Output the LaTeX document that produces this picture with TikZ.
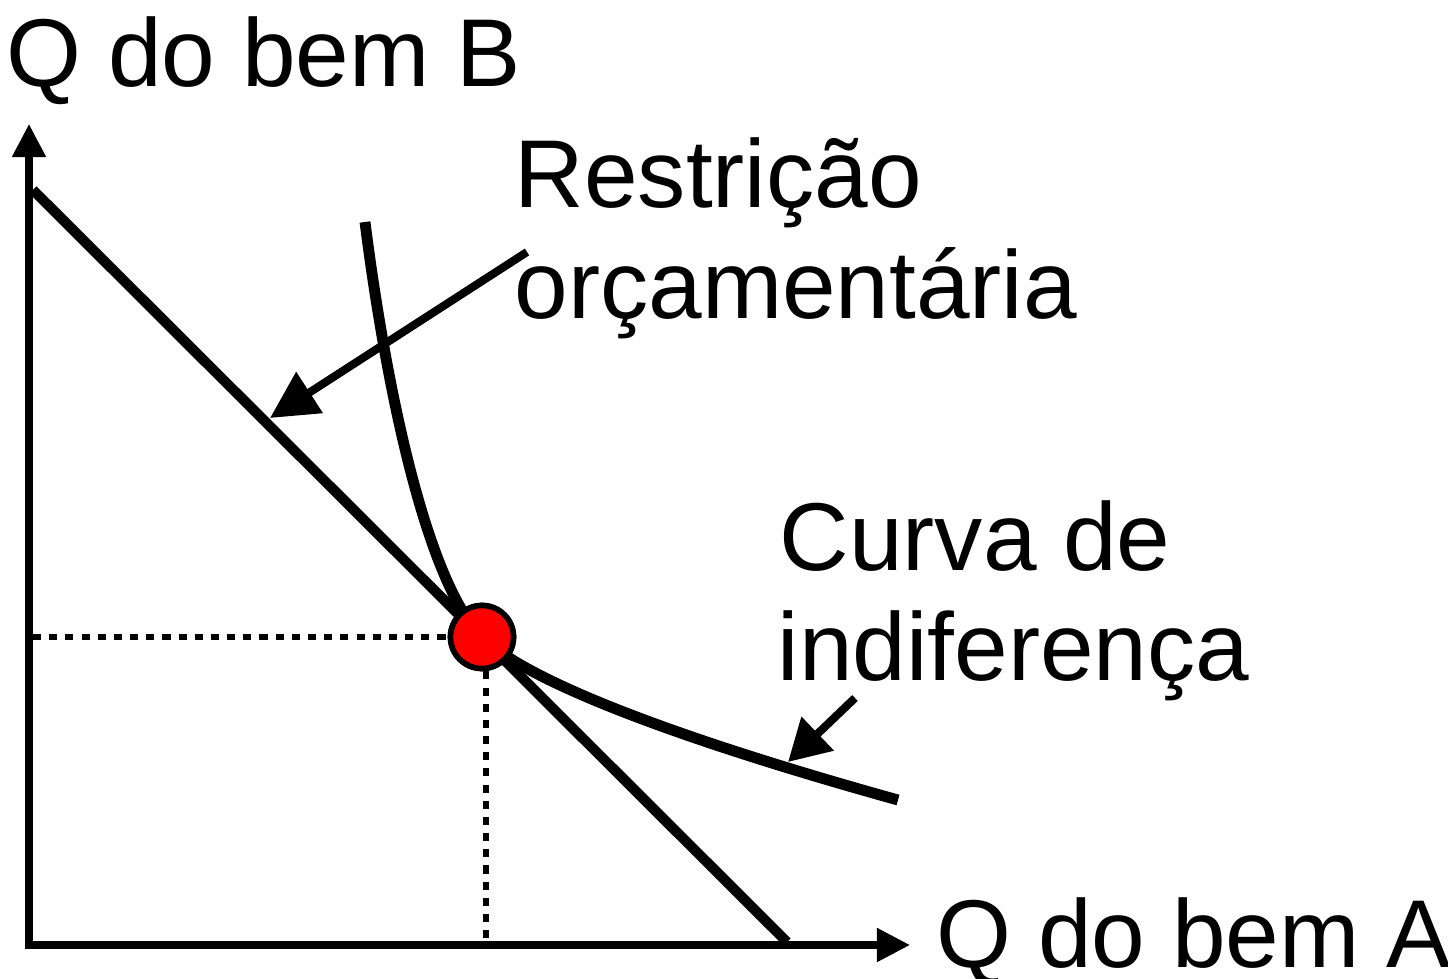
\documentclass[tikz,border=0pt]{standalone}
\usepackage{fontspec}
\setmainfont{Liberation Sans}
\usetikzlibrary{arrows.meta}
\begin{document}
\begin{tikzpicture}[x=0.01cm,y=-0.01cm,
  lbl/.style={anchor=base west,inner sep=0pt,font=\fontsize{27.4}{31}\selectfont},
  axisline/.style={line width=2pt,line join=miter},
  budget/.style={line width=2.9pt},
  indiff/.style={line width=3.1pt},
  pointer/.style={line width=2.3pt},
  dotline/.style={line width=1.7pt,dash pattern=on 2.3pt off 2.3pt},
  optdot/.style={circle,fill=red,draw=black,line width=1.6pt,minimum size=0.63cm,inner sep=0pt}]
\useasboundingbox (0,0) rectangle (1448,979);
% text labels
\node[lbl] (qb) at (6,87) {Q do bem B};
\node[lbl] (qa) at (936,967) {Q do bem A};
\node[lbl] (r1) at (514,208) {Restrição};
\node[lbl] (r2) at (514,318) {orçamentária};
\node[lbl] (c1) at (779,570) {Curva de};
\node[lbl] (c2) at (777,680) {indiferença};
% coordinates
\coordinate (o) at (29,945);
\coordinate (ytip) at (29,124);
\coordinate (xtip) at (910,945);
\coordinate (bl1) at (33,190);
\coordinate (bl2) at (787,942);
\coordinate (ic1) at (365,222);
\coordinate (ic2) at (898,800);
\coordinate (hl) at (33,637);
\coordinate (vb) at (486,945);
\coordinate (a1s) at (527,252);
\coordinate (a1e) at (270,418);
\coordinate (a2s) at (855,698);
\coordinate (a2e) at (788,762);
% axes
\draw[axisline,{Triangle[length=9.4pt,width=9.2pt]}-{Triangle[length=9.4pt,width=9.2pt]}] (ytip) -- (o) -- (xtip);
% budget line
\draw[budget] (bl1) -- (bl2);
% indifference curve
\draw[indiff] (ic1) .. controls (385,380) and (425,580) .. (482,637)
  .. controls (530,685) and (700,745) .. (ic2);
% dotted guides
\node[optdot] (dot) at (482,637) {};
\draw[dotline] (hl) -- (dot.west);
\draw[dotline] (vb |- dot.south) -- (vb);
\node[optdot] at (dot) {};
% pointers
\draw[pointer,-{Triangle[length=13.4pt,width=13.4pt]}] (a1s) -- (a1e);
\draw[pointer,-{Triangle[length=11.7pt,width=12.8pt]}] (a2s) -- (a2e);
\end{tikzpicture}
\end{document}
